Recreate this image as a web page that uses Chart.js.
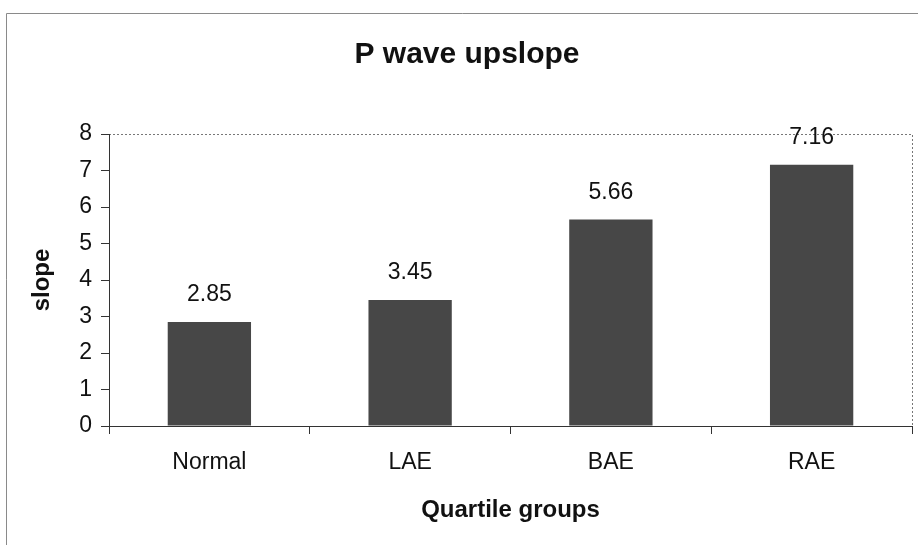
<!DOCTYPE html>
<html>
<head>
<meta charset="utf-8">
<script src="https://cdn.jsdelivr.net/npm/chart.js@4"></script>
<style>
  html, body { margin: 0; padding: 0; background: #fff; }
  #wrap { width: 918px; height: 545px; }
</style>
</head>
<body>
<div id="wrap"><canvas id="myChart" width="918" height="545"></canvas></div>
<script>
const groups = ["Normal", "LAE", "BAE", "RAE"];
const slopes = [2.85, 3.45, 5.66, 7.16];
const valueLabels = ["2.85", "3.45", "5.66", "7.16"];

const FONT = "'Liberation Sans', Arial, sans-serif";

// frame round the whole picture + dotted top/right edge of the plot area
const framePlugin = {
  id: "frame",
  beforeDraw(chart) {
    const ctx = chart.ctx;
    const a = chart.chartArea;
    ctx.save();
    ctx.strokeStyle = "#8a8a8a";
    ctx.lineWidth = 1;
    ctx.beginPath();
    ctx.moveTo(6.5, 545);
    ctx.lineTo(6.5, 13.5);
    ctx.lineTo(918, 13.5);
    ctx.stroke();
    ctx.setLineDash([2, 2]);
    ctx.strokeStyle = "#777";
    ctx.beginPath();
    ctx.moveTo(a.left, Math.round(a.top) + 0.5);
    ctx.lineTo(Math.round(a.right) + 0.5, Math.round(a.top) + 0.5);
    ctx.lineTo(Math.round(a.right) + 0.5, a.bottom);
    ctx.stroke();
    ctx.restore();
  }
};

// numbers above the bars
const valuePlugin = {
  id: "values",
  afterDatasetsDraw(chart) {
    const ctx = chart.ctx;
    const meta = chart.getDatasetMeta(0);
    ctx.save();
    ctx.font = "23px " + FONT;
    ctx.fillStyle = "#111";
    ctx.textAlign = "center";
    ctx.textBaseline = "middle";
    meta.data.forEach((bar, i) => {
      ctx.fillText(valueLabels[i], bar.x, bar.y - 27);
    });
    ctx.restore();
  }
};

const ctx = document.getElementById("myChart").getContext("2d");
const chart = new Chart(ctx, {
  type: "bar",
  data: {
    labels: groups,
    datasets: [{
      data: slopes,
      backgroundColor: "#474747",
      borderWidth: 0,
      categoryPercentage: 1,
      barPercentage: 0.415
    }]
  },
  options: {
    responsive: false,
    animation: false,
    layout: { padding: { left: 22, right: 6, top: 0, bottom: 0 } },
    plugins: {
      legend: { display: false },
      tooltip: { enabled: false },
      title: {
        display: true,
        text: "P wave upslope",
        color: "#111",
        font: { family: FONT, size: 30, weight: "bold" },
        padding: { top: 37, bottom: 61 }
      }
    },
    scales: {
      x: {
        grid: { drawOnChartArea: false, drawTicks: true, tickLength: 8, color: "#333" },
        border: { color: "#333", width: 1 },
        ticks: { color: "#111", font: { family: FONT, size: 23 }, padding: 15 },
        title: {
          display: true,
          text: "Quartile groups",
          color: "#111",
          font: { family: FONT, size: 24, weight: "bold" },
          padding: { top: 0, bottom: 20 }
        },
        afterFit(scale) { scale.height = 119; }
      },
      y: {
        min: 0,
        max: 8,
        grid: { drawOnChartArea: false, drawTicks: true, tickLength: 8, color: "#333" },
        border: { color: "#333", width: 1 },
        ticks: { stepSize: 1, color: "#111", font: { family: FONT, size: 23 }, padding: 9 },
        title: {
          display: true,
          text: "slope",
          color: "#111",
          font: { family: FONT, size: 24, weight: "bold" },
          padding: { top: 6, bottom: 0 }
        },
        afterFit(scale) { scale.width = 87; }
      }
    }
  },
  plugins: [framePlugin, valuePlugin]
});
</script>
</body>
</html>
